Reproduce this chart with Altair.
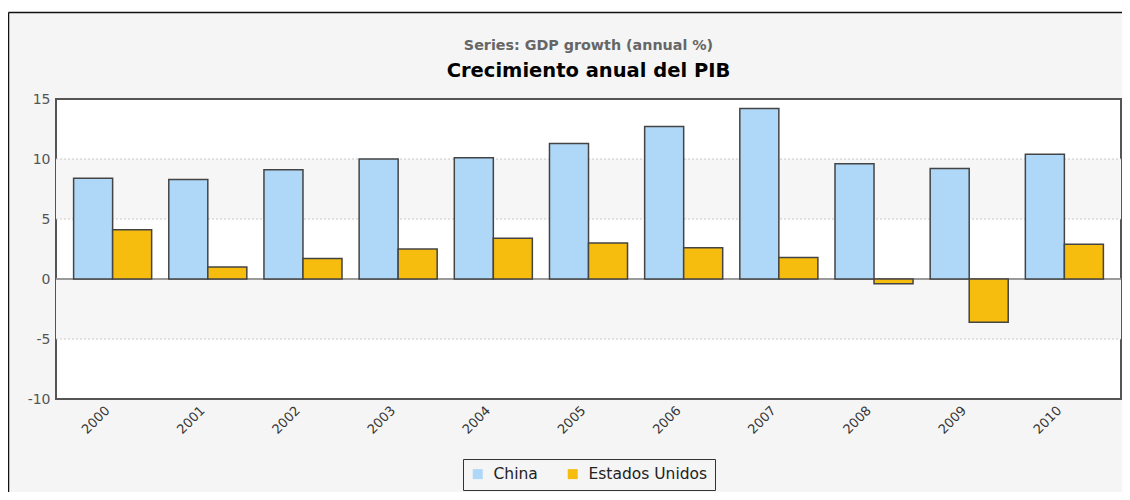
import altair as alt
import pandas as pd

years = ["2000", "2001", "2002", "2003", "2004", "2005", "2006", "2007", "2008", "2009", "2010"]
china = [8.4, 8.3, 9.1, 10.0, 10.1, 11.3, 12.7, 14.2, 9.6, 9.2, 10.4]
usa = [4.1, 1.0, 1.7, 2.5, 3.4, 3.0, 2.6, 1.8, -0.4, -3.6, 2.9]
series = ["China", "Estados Unidos"]
colors = ["#AFD8F8", "#F6BD0F"]
y_ticks = [15, 10, 5, 0, -5, -10]
grid_vals = [10, 5, -5]
band_top = [10, 0]
band_bottom = [5, -5]
title_text = "Crecimiento anual del PIB"
subtitle_text = "Series: GDP growth (annual %)"

rows = []
for i, yr in enumerate(years):
    rows.append({"year": yr, "serie": series[0], "value": china[i]})
    rows.append({"year": yr, "serie": series[1], "value": usa[i]})
df = pd.DataFrame(rows)
bands_df = pd.DataFrame({"top": band_top, "bottom": band_bottom})
grid_df = pd.DataFrame({"g": grid_vals})
zero_df = pd.DataFrame({"z": [0]})
one = pd.DataFrame({"a": [0]})

W, H = 1065, 300
FONT = "DejaVu Sans"
y_scale = alt.Scale(domain=[-10, 15], nice=False, zero=False)

bands = alt.Chart(bands_df).mark_rect(color="#f6f6f6").encode(
    x=alt.value(0), x2=alt.value(W),
    y=alt.Y("top:Q", scale=y_scale, title=None), y2="bottom:Q",
)

grid = alt.Chart(grid_df).mark_rule(color="#c8c8c8", strokeDash=[2, 2], strokeWidth=1).encode(
    x=alt.value(0), x2=alt.value(W),
    y=alt.Y("g:Q", scale=y_scale, title=None),
)

zero = alt.Chart(zero_df).mark_rule(color="#9a9a9a", strokeWidth=2).encode(
    x=alt.value(0), x2=alt.value(W),
    y=alt.Y("z:Q", scale=y_scale, title=None),
)

bars = alt.Chart(df).mark_bar(stroke="#444444", strokeWidth=1.5).encode(
    x=alt.X("year:N", sort=years,
            scale=alt.Scale(paddingInner=0.18, paddingOuter=0.185),
            axis=alt.Axis(title=None, labelAngle=-45, labelAlign="right", labelBaseline="bottom",
                          labelFont=FONT, labelFontSize=13,
                          labelColor="#333333", ticks=False, domain=False, grid=False,
                          labelPadding=14)),
    xOffset=alt.XOffset("serie:N", sort=series, scale=alt.Scale(paddingInner=0, paddingOuter=0)),
    y=alt.Y("value:Q", scale=y_scale,
            axis=alt.Axis(title=None, values=y_ticks, labelFont=FONT, labelFontSize=14,
                          labelColor="#555555", ticks=False, domain=False, grid=False,
                          labelPadding=6, labelExpr="toString(datum.value)")),
    color=alt.Color("serie:N", scale=alt.Scale(domain=series, range=colors),
                    legend=alt.Legend(title=None, orient="none", legendX=407, legendY=360,
                                      direction="horizontal", strokeColor="#333333",
                                      fillColor="#f5f5f5", padding=7, symbolType="square",
                                      symbolSize=100, symbolStrokeWidth=0, labelFont=FONT,
                                      labelFontSize=15.5, labelColor="#222222",
                                      columnPadding=27, labelOffset=8)),
)

sub = alt.Chart(one).mark_text(text=subtitle_text, font=FONT, fontSize=14.3, fontWeight="bold",
                               color="#666666", align="center", baseline="middle").encode(
    x=alt.value(W / 2), y=alt.value(-53.5)
)
ttl = alt.Chart(one).mark_text(text=title_text, font=FONT, fontSize=19.5, fontWeight="bold",
                               color="#000000", align="center", baseline="middle").encode(
    x=alt.value(W / 2), y=alt.value(-28.5)
)

white_strip = alt.Chart(one).mark_rect(color="white").encode(
    x=alt.value(-48), x2=alt.value(1066), y=alt.value(-91), y2=alt.value(-86.5)
)
frame_left = alt.Chart(one).mark_rule(color="#111111", strokeWidth=1.5).encode(
    x=alt.value(-47.5), y=alt.value(-86.5), y2=alt.value(393)
)
frame_top = alt.Chart(one).mark_rule(color="#111111", strokeWidth=1.5).encode(
    x=alt.value(-47.5), x2=alt.value(1066), y=alt.value(-86.5)
)

chart = alt.layer(bands, grid, zero, bars, sub, ttl, white_strip, frame_left, frame_top).properties(
    width=W, height=H,
    background="#f5f5f5",
    padding={"left": 48, "top": 91, "right": 1, "bottom": 93},
    autosize=alt.AutoSizeParams(type="none"),
).configure_view(fill="white", stroke="#555555", strokeWidth=2)

chart.save("out.html", embed_options={"renderer": "svg", "actions": False})
